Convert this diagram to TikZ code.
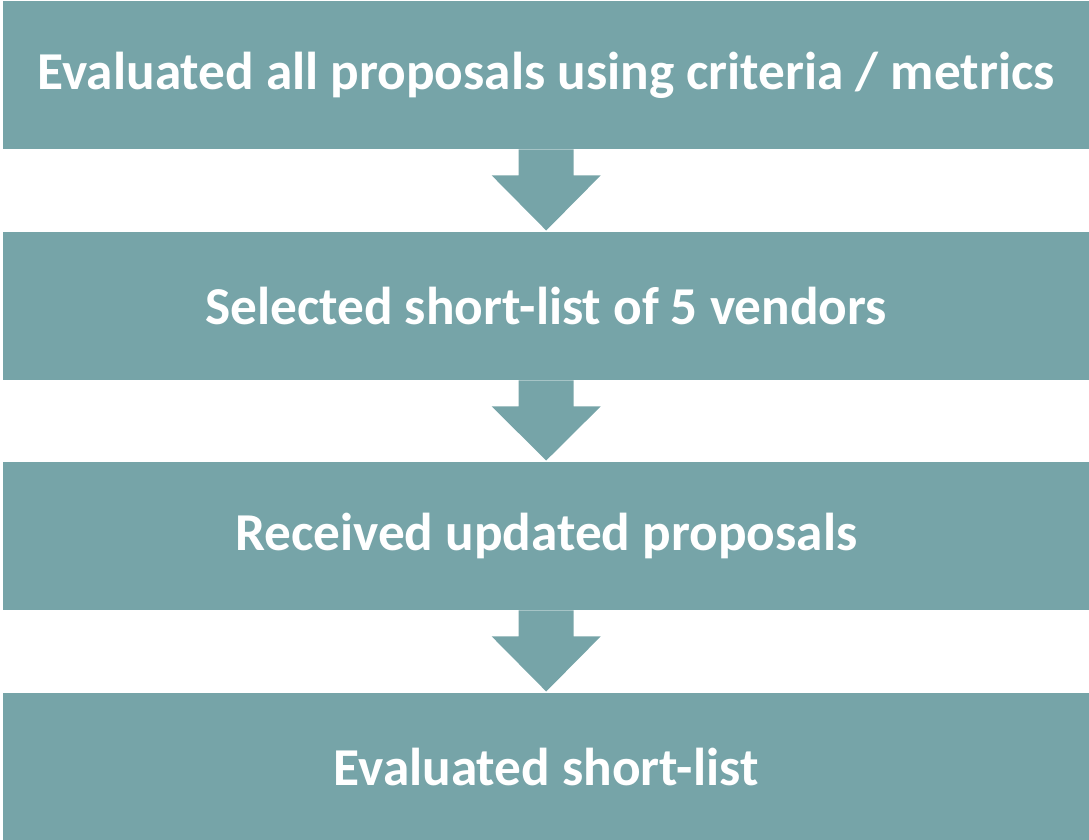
\documentclass[tikz,border=0pt]{standalone}
\usepackage{fontspec}
\setmainfont{Carlito}
\usetikzlibrary{calc}
\definecolor{boxcol}{HTML}{76A4A8}
\begin{document}
\begin{tikzpicture}[x=1pt,y=-1pt,
  stage/.style={fill=boxcol, draw=none, minimum width=1086pt, minimum height=148pt,
    inner sep=0pt, anchor=north west, text=white, font=\fontsize{53.3}{60}\selectfont\bfseries},
]
\useasboundingbox (0,0) rectangle (1089,840);
% the four stages
\node[stage] (s1) at (3,1)   {Evaluated all proposals using criteria / metrics};
\node[stage] (s2) at (3,232) {Selected short-list of 5 vendors};
\node[stage] (s3) at (3,462) {Received updated proposals};
\node[stage] (s4) at (3,693) {Evaluated short-list};
% block arrows between consecutive stages
\foreach \a/\b in {s1/s2, s2/s3, s3/s4}{
  \coordinate (top) at (\a.south);
  \coordinate (tip) at ($(\b.north)+(0,-1.5)$);
  \fill[boxcol]
    ($(top)+(-27.5,0)$) -- ($(top)+(27.5,0)$) -- ($(top)+(27.5,26)$) -- ($(top)+(54.5,26)$)
    -- (tip) -- ($(top)+(-54.5,26)$) -- ($(top)+(-27.5,26)$) -- cycle;
}
\end{tikzpicture}
\end{document}
